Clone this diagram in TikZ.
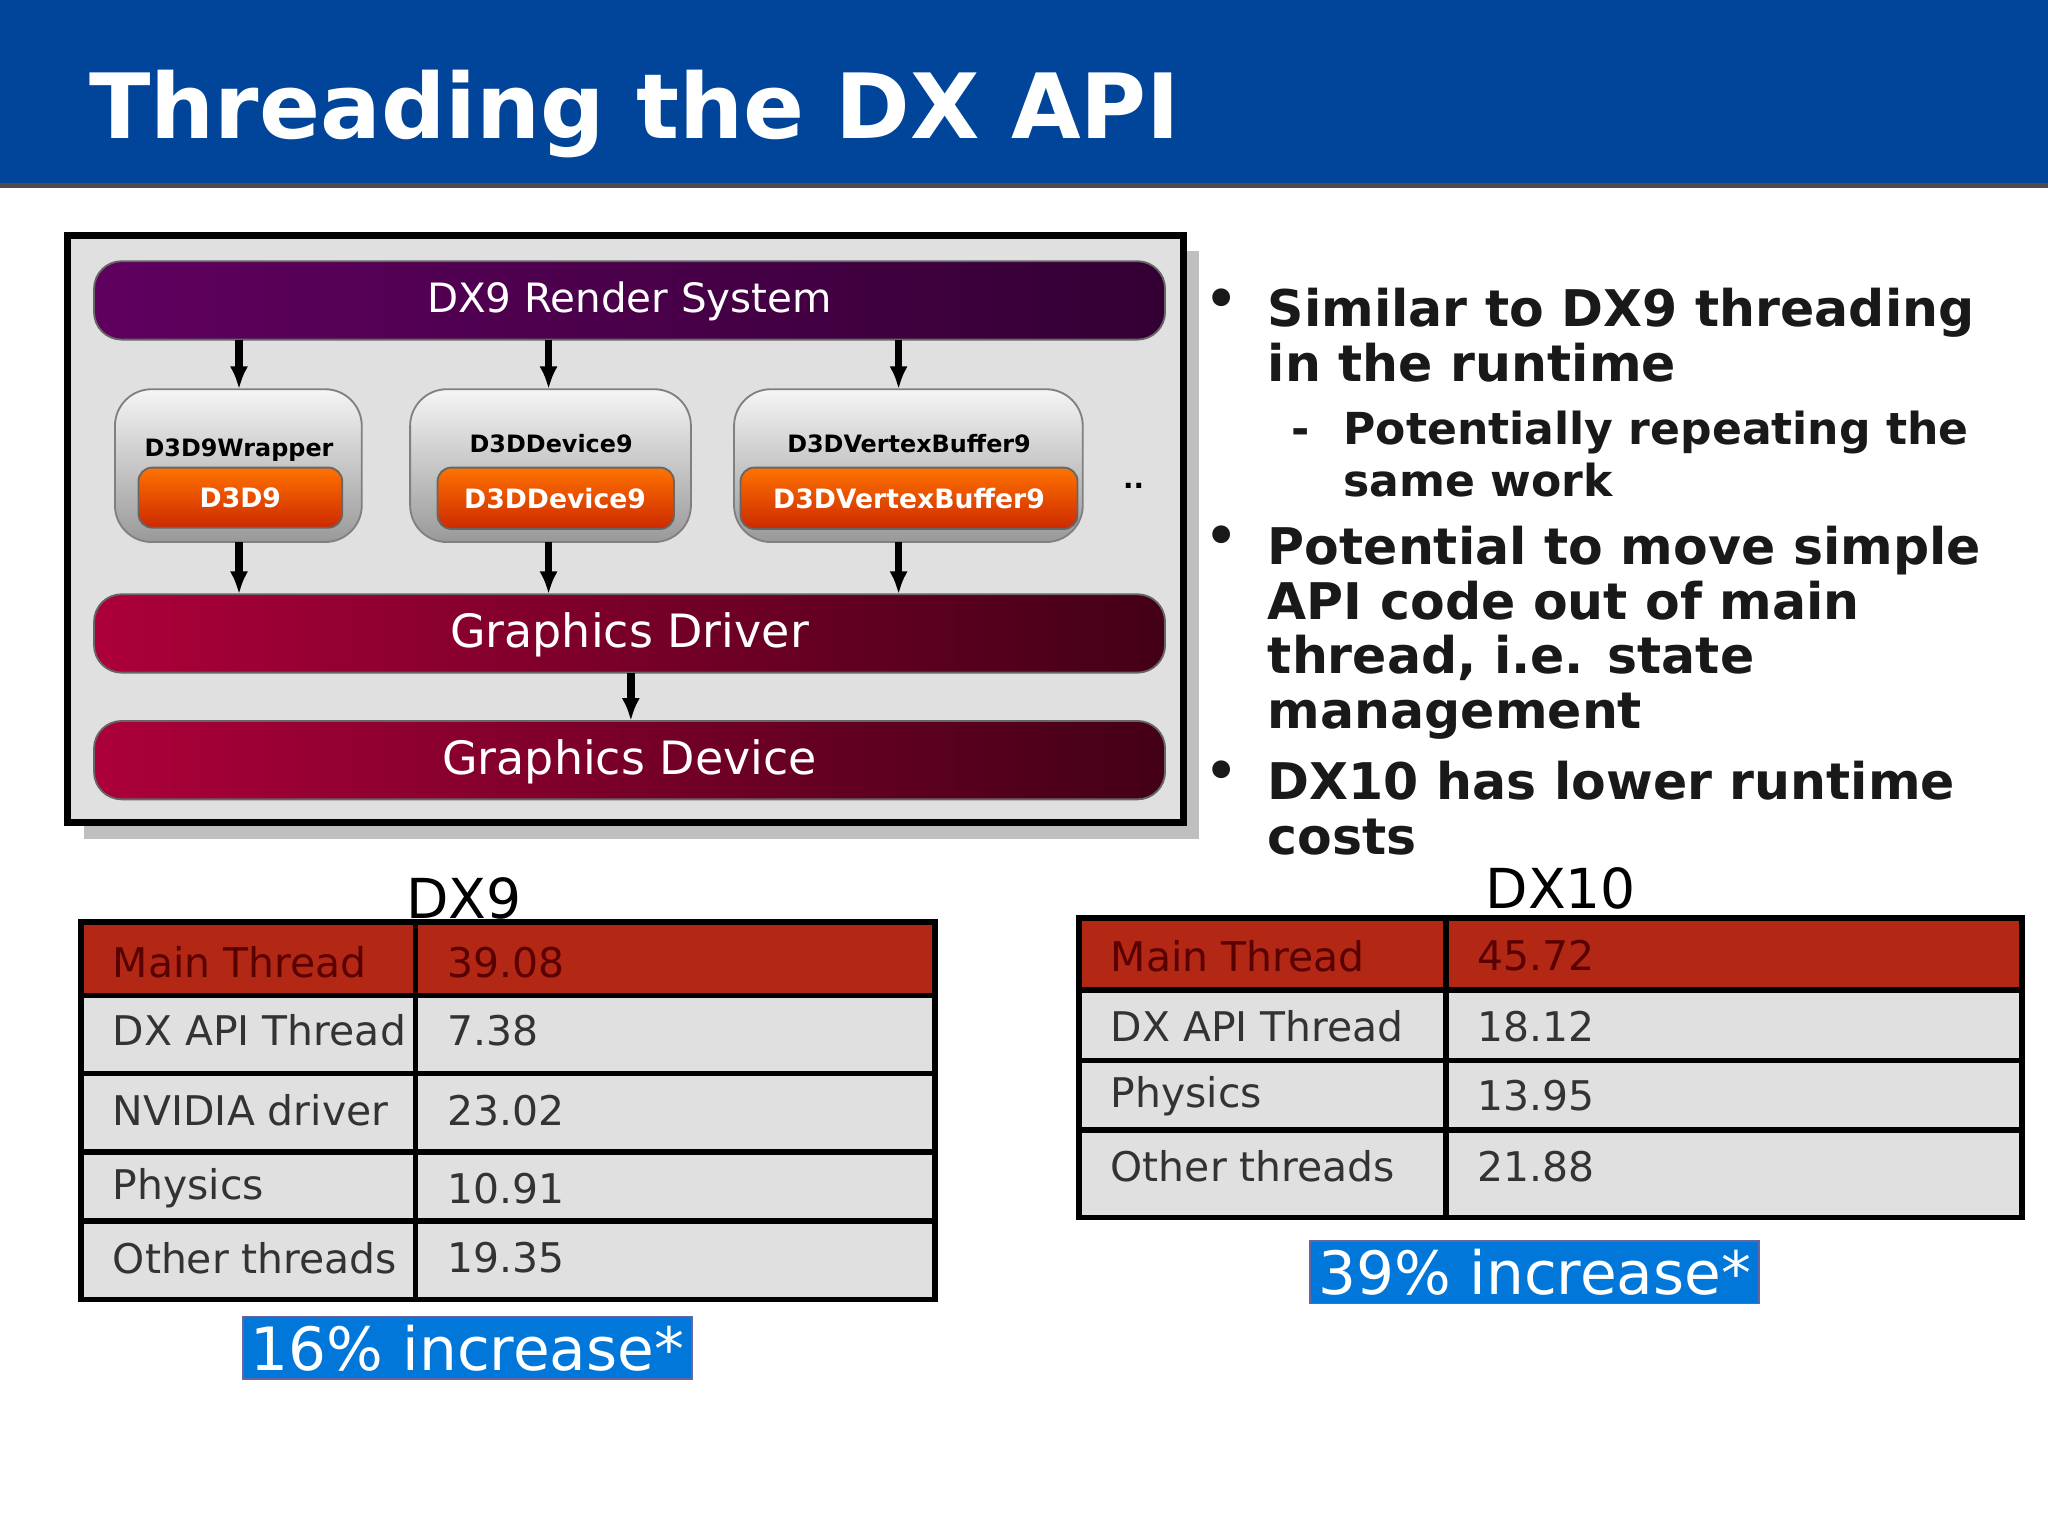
\documentclass[tikz,border=0pt]{standalone}
\usepackage{fontspec}
\setmainfont{DejaVu Sans}
\begin{document}
\begin{tikzpicture}[x=0.01cm,y=-0.01cm,
  bar/.style={rounded corners=6pt,draw=black!60,line width=0.4pt},
  gbox/.style={rounded corners=8pt,draw=black!50,top color=white!92!gray,bottom color=black!40},
  obox/.style={rounded corners=3pt,draw=black!60,top color=orange!90!red,bottom color=red!60!orange!80!black},
  arr/.style={-{Latex[length=5pt,width=4pt]},line width=1.6pt},
  cell/.style={anchor=west,font=\fontsize{8.9}{10}\selectfont,text=black!80},
  incfill/.style={fill=blue!45!cyan!85!black,draw=blue!40!black!60},
  inc/.style={text=white,font=\fontsize{13}{14}\selectfont}]
\usetikzlibrary{arrows.meta}
\definecolor{hdr}{HTML}{B32814}
\useasboundingbox (0,0) rectangle (1568,1176);
\fill[white] (0,0) rectangle (1568,1176);
% title
\fill[blue!55!cyan!60!black] (0,0) rectangle (1568,142);
\draw[black!70,line width=1pt] (0,142) -- (1568,142);
\node[anchor=base west,text=white,font=\bfseries\fontsize{19.6}{22}\selectfont] (title) at (56,106) {Threading the DX API};
% frame
\fill[black!25] (64,192) rectangle (918,642);
\draw[line width=1.5pt,fill=black!12!white] (52,180) rectangle (906,630);
\shade[bar,left color=violet!75!black,right color=violet!40!black] (72,200) rectangle (892,260);
\node[text=white,font=\fontsize{8.8}{10}\selectfont] (rs) at (482,231) {DX9 Render System};
\shade[bar,left color=purple!90!black,right color=purple!35!black] (72,455) rectangle (892,515);
\node[text=white,font=\fontsize{10}{12}\selectfont] (gd) at (482,486) {Graphics Driver};
\shade[bar,left color=purple!90!black,right color=purple!35!black] (72,552) rectangle (892,612);
\node[text=white,font=\fontsize{10}{12}\selectfont] (gdev) at (482,583) {Graphics Device};
% boxes
\shade[gbox] (88,298) rectangle (277,415);
\shade[gbox] (314,298) rectangle (529,415);
\shade[gbox] (562,298) rectangle (829,415);
\node[font=\bfseries\fontsize{5.2}{8.3}\selectfont] (w1) at (183,345) {D3D9Wrapper};
\node[font=\bfseries\fontsize{5.2}{7.2}\selectfont,align=center,anchor=north] (w2) at (422,320) {D3DDevice9\\Wrapper};
\node[font=\bfseries\fontsize{5.2}{7.2}\selectfont,align=center,anchor=north] (w3) at (696,320) {D3DVertexBuffer9\\Wrapper};
\shade[obox] (106,358) rectangle (262,404);
\shade[obox] (335,358) rectangle (516,405);
\shade[obox] (567,358) rectangle (825,405);
\node[text=white,font=\bfseries\fontsize{5.8}{7}\selectfont] (o1) at (184,381) {D3D9};
\node[text=white,font=\bfseries\fontsize{5.8}{7}\selectfont] (o2) at (425,382) {D3DDevice9};
\node[text=white,font=\bfseries\fontsize{5.8}{7}\selectfont] (o3) at (696,382) {D3DVertexBuffer9};
\node[font=\bfseries\fontsize{6}{7}\selectfont] (dots) at (868,372) {..};
\coordinate (a1) at (183,260); \coordinate (b1) at (183,298);
\coordinate (a2) at (420,260); \coordinate (b2) at (420,298);
\coordinate (a3) at (688,260); \coordinate (b3) at (688,298);
\coordinate (c1) at (183,415); \coordinate (d1) at (183,455);
\coordinate (c2) at (420,415); \coordinate (d2) at (420,455);
\coordinate (c3) at (688,415); \coordinate (d3) at (688,455);
\coordinate (e) at (483,515); \coordinate (f) at (483,552);
\foreach \p/\q in {a1/b1,a2/b2,a3/b3,c1/d1,c2/d2,c3/d3,e/f} \draw[arr] (\p) -- (\q);
% bullets
\begin{scope}[every node/.style={anchor=base west,font=\bfseries\fontsize{11}{12}\selectfont,inner sep=0,text=black!90}]
\node (bu1) at (922,242) {•};
\node (t1) at (970,250) {Similar to DX9 threading};
\node (t1b) at (970,292) {in the runtime};
\node[font=\bfseries\fontsize{9.6}{12}\selectfont] (s0) at (988,340) {-};
\node[font=\bfseries\fontsize{9.6}{12}\selectfont] (s1) at (1028,340) {Potentially repeating the};
\node[font=\bfseries\fontsize{9.6}{12}\selectfont] (s2) at (1028,380) {same work};
\node (bu2) at (922,424) {•};
\node (t2) at (970,432) {Potential to move simple};
\node (t2b) at (970,474) {API code out of main};
\node (t2c) at (970,516) {thread, i.e. state};
\node (t2d) at (970,558) {management};
\node (bu3) at (922,604) {•};
\node (t3) at (970,612) {DX10 has lower runtime};
\node (t3b) at (970,654) {costs};
\end{scope}
% DX9 table
\node[font=\fontsize{12}{14}\selectfont] (dx9) at (355,688) {DX9};
\fill[black!12] (62,706) rectangle (716,995);
\fill[hdr] (62,706) rectangle (716,762);
\draw[line width=1.2pt] (62,706) rectangle (716,995);
\foreach \y in {762,822,882,935} \draw[line width=1.2pt] (62,\y) -- (716,\y);
\draw[line width=1.2pt] (318,706) -- (318,995);
\node[cell,text=red!35!black] (m1) at (74,737) {Main Thread};
\node[cell,text=red!35!black] (m2) at (330,737) {39.08};
\node[cell] at (74,789) {DX API Thread}; \node[cell] at (330,789) {7.38};
\node[cell] at (74,850) {NVIDIA driver}; \node[cell] at (330,850) {23.02};
\node[cell] at (74,910) {Physics}; \node[cell] at (330,910) {10.91};
\node[cell] at (74,963) {Other threads}; \node[cell] at (330,963) {19.35};
\filldraw[incfill] (186,1008) rectangle (530,1056);
\node[inc] (i1) at (358,1032) {16\% increase*};
% DX10 table
\node[font=\fontsize{12}{14}\selectfont] (dx10) at (1195,680) {DX10};
\fill[black!12] (826,703) rectangle (1548,932);
\fill[hdr] (826,703) rectangle (1548,758);
\draw[line width=1.2pt] (826,703) rectangle (1548,932);
\foreach \y in {758,812,865} \draw[line width=1.2pt] (826,\y) -- (1548,\y);
\draw[line width=1.2pt] (1107,703) -- (1107,932);
\node[cell,text=red!35!black] at (838,732) {Main Thread};
\node[cell,text=red!35!black] at (1119,732) {45.72};
\node[cell] at (838,786) {DX API Thread}; \node[cell] at (1119,786) {18.12};
\node[cell] at (838,839) {Physics}; \node[cell] at (1119,839) {13.95};
\node[cell] at (838,893) {Other threads}; \node[cell] at (1119,893) {21.88};
\filldraw[incfill] (1003,950) rectangle (1347,998);
\node[inc] (i2) at (1175,974) {39\% increase*};
\end{tikzpicture}
\end{document}
